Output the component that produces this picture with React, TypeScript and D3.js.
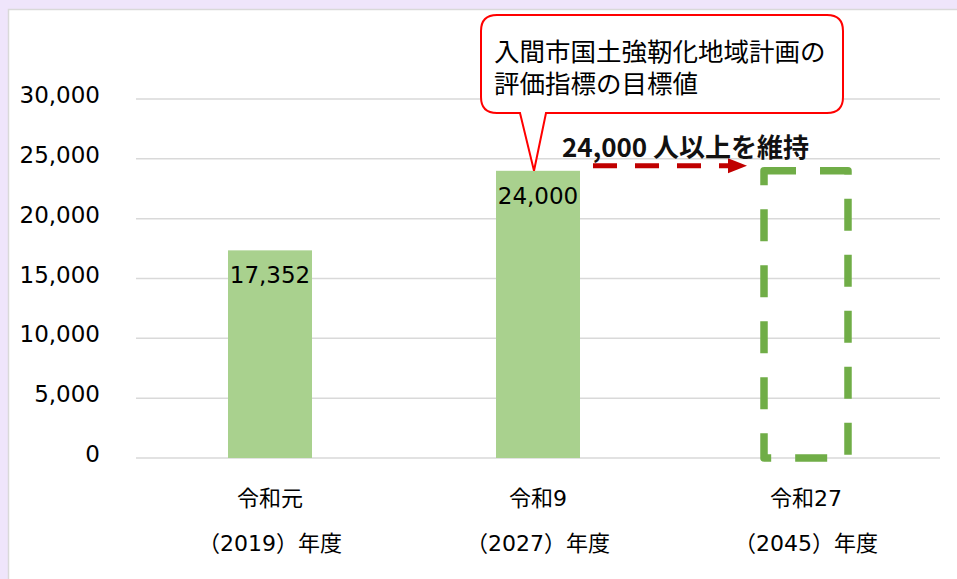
import React, { useEffect, useRef } from 'react';
import * as d3 from 'd3';

// chart data
const categories = ['令和元', '令和9', '令和27'];
const categoryYears = ['（2019）年度', '（2027）年度', '（2045）年度'];
const actualValues: (number | null)[] = [17352, 24000, null];
const targetValue = 24000;
const yTicks = [0, 5000, 10000, 15000, 20000, 25000, 30000];
const calloutLines = ['入間市国土強靭化地域計画の', '評価指標の目標値'];
const targetLabel = '24,000 人以上を維持';

const W = 957;
const H = 579;
const NUM_FONT = '"DejaVu Sans", "Noto Sans CJK JP", sans-serif';
const JP_FONT = '"Noto Sans CJK JP", sans-serif';

const App = () => {
  const ref = useRef<SVGSVGElement>(null);

  useEffect(() => {
    const svg = d3.select(ref.current);
    svg.selectAll('*').remove();

    const x = d3.scaleBand<string>()
      .domain(categories)
      .range([136, 940])
      .paddingInner(0.6866)
      .paddingOuter(0.3433);
    const y = d3.scaleLinear().domain([0, 30000]).range([458, 99]);

    // page + panel
    svg.append('rect').attr('width', W).attr('height', H).attr('fill', '#efe5fb');
    svg.append('rect')
      .attr('x', 8.5).attr('y', 9.5)
      .attr('width', W).attr('height', H)
      .attr('fill', '#fff')
      .attr('stroke', '#d9d9d9').attr('stroke-width', 1.5);

    // gridlines
    svg.append('g')
      .selectAll('line')
      .data(yTicks)
      .enter()
      .append('line')
      .attr('x1', 136).attr('x2', 940)
      .attr('y1', d => y(d)).attr('y2', d => y(d))
      .attr('stroke', '#d9d9d9').attr('stroke-width', 1.5);

    // y labels
    svg.append('g')
      .selectAll('text')
      .data(yTicks)
      .enter()
      .append('text')
      .attr('x', 100)
      .attr('y', d => y(d) - 4)
      .attr('text-anchor', 'end')
      .attr('dominant-baseline', 'central')
      .style('font-family', NUM_FONT)
      .style('font-size', '23px')
      .attr('fill', '#000')
      .text(d => d3.format(',')(d));

    // bars
    const barData = categories
      .map((c, i) => ({ c, v: actualValues[i] }))
      .filter(d => d.v !== null) as { c: string; v: number }[];

    svg.append('g')
      .selectAll('rect')
      .data(barData)
      .enter()
      .append('rect')
      .attr('x', d => x(d.c)!)
      .attr('y', d => y(d.v))
      .attr('width', x.bandwidth())
      .attr('height', d => y(0) - y(d.v))
      .attr('fill', '#a9d18e');

    svg.append('g')
      .selectAll('text')
      .data(barData)
      .enter()
      .append('text')
      .attr('x', d => x(d.c)! + x.bandwidth() / 2)
      .attr('y', d => y(d.v) + 25)
      .attr('text-anchor', 'middle')
      .attr('dominant-baseline', 'central')
      .style('font-family', NUM_FONT)
      .style('font-size', '23px')
      .attr('fill', '#000')
      .text(d => d3.format(',')(d.v));

    // target dashed box
    const tx = x(categories[2])!;
    const tw = x.bandwidth();
    const ty = y(targetValue);
    svg.append('path')
      .attr('d', `M${tx},${ty}H${tx + tw}V${y(0)}H${tx}Z`)
      .attr('fill', 'none')
      .attr('stroke', '#70ad47')
      .attr('stroke-width', 7.5)
      .attr('stroke-dasharray', '32 24')
      .attr('stroke-linejoin', 'round');

    // red dashed arrow
    const arrowY = ty - 5;
    const ax1 = x(categories[1])! + tw + 13;
    const ax2 = tx - 17;
    svg.append('line')
      .attr('x1', ax1).attr('x2', ax2 - 16)
      .attr('y1', arrowY).attr('y2', arrowY)
      .attr('stroke', '#c00000')
      .attr('stroke-width', 5)
      .attr('stroke-dasharray', '24 18');
    svg.append('path')
      .attr('d', `M${ax2 - 19},${arrowY - 7.5}L${ax2},${arrowY}L${ax2 - 19},${arrowY + 7.5}Z`)
      .attr('fill', '#c00000');

    svg.append('text')
      .attr('x', 562)
      .attr('y', 157)
      .style('font-family', JP_FONT)
      .style('font-size', '26px')
      .style('font-weight', 'bold')
      .attr('fill', '#111')
      .text(targetLabel);

    // callout
    const cx1 = 481, cx2 = 843, cy1 = 15, cy2 = 113, r = 16;
    const tipX = x(categories[1])! + tw / 2 - 4;
    const tipY = y(actualValues[1] as number);
    const callout = `M${cx1 + r},${cy1}H${cx2 - r}Q${cx2},${cy1} ${cx2},${cy1 + r}` +
      `V${cy2 - r}Q${cx2},${cy2} ${cx2 - r},${cy2}H546L${tipX},${tipY}L520,${cy2}` +
      `H${cx1 + r}Q${cx1},${cy2} ${cx1},${cy2 - r}V${cy1 + r}Q${cx1},${cy1} ${cx1 + r},${cy1}Z`;
    svg.append('path')
      .attr('d', callout)
      .attr('fill', '#fff')
      .attr('stroke', '#ff0000')
      .attr('stroke-width', 2);
    svg.append('g')
      .selectAll('text')
      .data(calloutLines)
      .enter()
      .append('text')
      .attr('x', 494)
      .attr('y', (d, i) => 49 + i * 32)
      .attr('dominant-baseline', 'central')
      .style('font-family', JP_FONT)
      .style('font-size', '25.5px')
      .attr('fill', '#000')
      .text(d => d);

    // category labels
    const cat = svg.append('g');
    cat.selectAll('text.l1')
      .data(categories)
      .enter()
      .append('text')
      .attr('class', 'l1')
      .attr('x', d => x(d)! + tw / 2)
      .attr('y', 498)
      .attr('text-anchor', 'middle')
      .attr('dominant-baseline', 'central')
      .style('font-family', NUM_FONT)
      .style('font-size', '22px')
      .attr('fill', '#000')
      .text(d => d);
    cat.selectAll('text.l2')
      .data(categoryYears)
      .enter()
      .append('text')
      .attr('class', 'l2')
      .attr('x', (d, i) => x(categories[i])! + tw / 2)
      .attr('y', 543)
      .attr('text-anchor', 'middle')
      .attr('dominant-baseline', 'central')
      .style('font-family', NUM_FONT)
      .style('font-size', '22px')
      .attr('fill', '#000')
      .text(d => d);

    return () => {
      svg.selectAll('*').remove();
    };
  }, []);

  return (
    <svg
      ref={ref}
      width={W}
      height={H}
      style={{ position: 'fixed', left: 0, top: 0, display: 'block' }}
    />
  );
};

export default App;
